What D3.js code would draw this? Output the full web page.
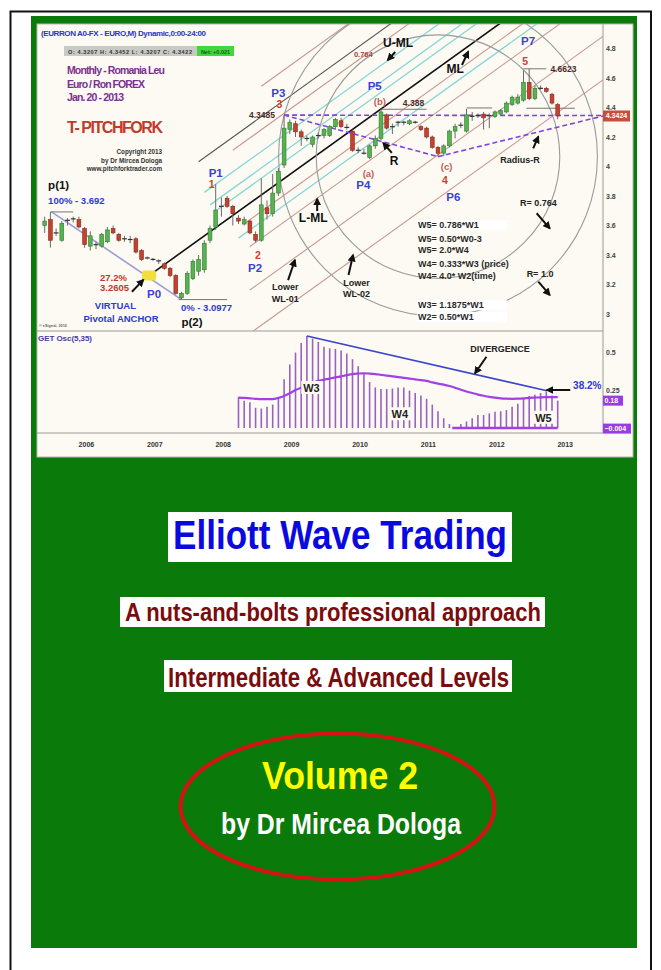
<!DOCTYPE html>
<html>
<head>
<meta charset="utf-8">
<script src="https://cdn.jsdelivr.net/npm/d3@7"></script>
<style>
  body { margin: 0; background: #fff; }
  svg { display: block; }
  text { font-family: "Liberation Sans Narrow", "Liberation Sans", Arial, sans-serif; font-weight: bold; }
</style>
</head>
<body>
<svg id="cover" width="661" height="970"></svg>
<script>
// ---------- data (monthly EUR/RON, first candle Jul 2005, last Jan 2013) ----------
const openP = [3.60,3.64,3.55,3.50,3.63,3.64,3.64,3.58,3.46,3.47,
  3.46,3.49,3.58,3.54,3.51,3.51,3.51,3.43,3.38,3.37,
  3.36,3.34,3.31,3.26,3.11,3.14,3.24,3.29,3.30,3.50,
  3.59,3.72,3.785,3.73,3.65,3.61,3.63,3.54,3.50,3.72,
  3.68,3.82,4.01,4.25,4.29,4.235,4.19,4.15,4.21,4.21,
  4.21,4.27,4.31,4.27,4.24,4.11,4.10,4.06,4.14,4.19,
  4.35,4.27,4.29,4.30,4.29,4.30,4.27,4.26,4.20,4.13,
  4.09,4.14,4.24,4.28,4.24,4.35,4.345,4.355,4.345,4.34,
  4.355,4.37,4.42,4.43,4.45,4.57,4.46,4.53,4.53,4.49,4.42];
const highP = [3.66,3.692,3.58,3.63,3.65,3.66,3.66,3.59,3.56,3.49,
  3.55,3.59,3.60,3.55,3.53,3.53,3.52,3.44,3.39,3.38,
  3.37,3.35,3.32,3.27,3.15,3.29,3.37,3.40,3.50,3.60,
  3.88,3.79,3.80,3.74,3.67,3.66,3.64,3.56,3.92,3.77,
  3.95,3.99,4.3485,4.32,4.31,4.25,4.21,4.21,4.23,4.26,
  4.28,4.33,4.33,4.29,4.25,4.13,4.12,4.15,4.21,4.388,
  4.36,4.29,4.31,4.31,4.32,4.31,4.28,4.27,4.21,4.14,
  4.15,4.25,4.29,4.30,4.39,4.37,4.36,4.37,4.36,4.38,
  4.39,4.44,4.48,4.49,4.65,4.6623,4.55,4.55,4.54,4.50,4.43];
const lowP = [3.55,3.45,3.53,3.49,3.60,3.62,3.58,3.45,3.43,3.44,
  3.45,3.48,3.54,3.49,3.49,3.48,3.41,3.36,3.37,3.36,
  3.34,3.30,3.25,3.13,3.0977,3.13,3.23,3.26,3.28,3.48,
  3.57,3.66,3.72,3.60,3.61,3.60,3.54,3.485,3.49,3.64,
  3.66,3.80,3.99,4.22,4.20,4.14,4.17,4.13,4.19,4.19,
  4.20,4.25,4.26,4.25,4.10,4.09,4.08,4.05,4.12,4.18,
  4.25,4.22,4.27,4.28,4.28,4.29,4.24,4.19,4.12,4.067,
  4.07,4.13,4.19,4.26,4.23,4.31,4.33,4.25,4.26,4.33,
  4.35,4.36,4.41,4.42,4.44,4.45,4.45,4.52,4.50,4.42,4.32];
const closeP = [3.63,3.50,3.55,3.615,3.635,3.645,3.59,3.47,3.53,3.47,
  3.54,3.57,3.55,3.50,3.51,3.505,3.42,3.37,3.38,3.37,
  3.36,3.31,3.26,3.14,3.14,3.275,3.355,3.37,3.48,3.58,
  3.705,3.73,3.73,3.68,3.63,3.64,3.55,3.50,3.74,3.68,
  3.82,3.965,4.26,4.30,4.235,4.20,4.19,4.20,4.21,4.25,
  4.27,4.32,4.27,4.265,4.11,4.11,4.09,4.14,4.19,4.37,
  4.26,4.27,4.30,4.30,4.31,4.30,4.25,4.20,4.13,4.09,
  4.14,4.24,4.27,4.28,4.35,4.34,4.345,4.33,4.345,4.37,
  4.38,4.43,4.47,4.47,4.57,4.46,4.53,4.53,4.51,4.43,4.3424];

// GET oscillator, first value at month 34 (May 2008)
const oscFirstMonth = 34;
const oscBars = [.203,.18,.17,.133,.128,.139,.154,.203,.32,.417,
  .496,.56,.605,.588,.566,.534,.524,.52,.51,.49,
  .453,.406,.353,.303,.267,.256,.256,.26,.267,.267,
  .246,.23,.214,.192,.154,.111,.064,.026,.005,.026,
  .043,.064,.085,.085,.096,.107,.11,.118,.139,.16,
  .192,.21,.218,.23,.24,.214,.18];
const oscSignal = [.20,.198,.195,.192,.19,.19,.19,.198,.21,.228,
  .25,.265,.28,.295,.31,.318,.325,.333,.34,.348,
  .355,.358,.36,.358,.355,.35,.345,.34,.335,.33,
  .325,.32,.315,.31,.30,.292,.285,.276,.265,.252,
  .24,.23,.22,.212,.205,.20,.195,.193,.192,.193,
  .195,.198,.20,.202,.203,.203,.203];
const oscBaseFrom = 71.5;
const divMonth = [46, 88.1];
const divValue = [0.605, 0.245];

const priceTicks = [3, 3.2, 3.4, 3.6, 3.8, 4, 4.2, 4.4, 4.6, 4.8];
const oscTicks = [0.25, 0.5];
const yearTicks = [2006, 2007, 2008, 2009, 2010, 2011, 2012, 2013];
const lastPrice = 4.3424;
const oscMarks = [0.18, -0.004];

// pivots (month index, price)
const pivotName = ['P0', 'P1', 'P2', 'P3', 'P6'];
const pivotMonth = [18.3, 30, 37, 42, 69];
const pivotPrice = [3.2605, 3.88, 3.485, 4.3485, 4.067];
const swingMonth = [1.2, 24];
const swingPrice = [3.692, 3.0977];

// pitchfork parallels, in half-widths of the fork
const forkLevel = [2.5, 1.8, 1.5, 1, 0.618, 0.382, 0, -0.382, -0.618, -1, -2, -3];
const forkKind  = ['warn','outer','warn','fib','fib','fib','median','warn','fib','warn','warn','warn'];
const forkFrom  = [38, 27, 33, 28, 29, 30, 18.3, 35, 34, 36, 36, 36];
const radiusRatio = [0.764, 1.0];

// short horizontal price marks
const levelFrom  = [1, 23.5, 59, 84, 84.5, 74];
const levelTo    = [5, 32, 67, 88, 93, 78.5];
const levelPrice = [3.692, 3.0977, 4.388, 4.6623, 4.395, 4.397];

// price pane notes
const noteText = ['p(1)','100% - 3.692','27.2%','3.2605','P0','VIRTUAL','Pivotal ANCHOR','0% - 3.0977','p(2)',
  'P1','1','2','P2','P3','3','4.3485','(a)','P4','P5','(b)','4.388','(c)','4','P6','P7','5','4.6623',
  'U-ML','ML','0.764','R','Radius-R','L-ML','Lower','WL-01','Lower','WL-02','R= 0.764','R= 1.0'];
const noteMonth = [0.6,0.6,9.7,9.7,19.2,8.8,6.8,23.9,24,
  30,29.3,37.4,36.9,41,41.2,40.4,56.8,55.9,57.9,58.8,64.7,70.5,70.2,71.7,84.8,84.3,91,
  62,72,55.9,61.3,83.4,47.1,42.2,42.2,54.7,54.7,86.6,86.9];
const notePrice = [3.845,3.744,3.226,3.158,3.106,3.032,2.948,3.022,2.92,
  3.927,3.852,3.373,3.287,4.473,4.395,4.331,3.931,3.845,4.519,4.417,4.412,3.976,3.881,3.768,4.824,4.688,4.643,
  4.812,4.632,4.744,4.01,4.022,3.626,3.163,3.083,3.19,3.113,3.732,3.249];
const noteKind = ['name','blue','red','red','pivot','blue','blue','blue','name',
  'pivot','wave','wave','pivot','pivot','wave','price','sub','pivot','pivot','sub','price','sub','wave','pivot','pivot','wave','price',
  'line','line','small','line','note','line','note','note','note','note','note','note'];

const formulaText = ['W5= 0.786*W1','W5= 0.50*W0-3','W5= 2.0*W4','W4= 0.333*W3 (price)','W4= 4.0* W2(time)','W3= 1.1875*W1','W2= 0.50*W1'];
const formulaMonth = 65.5;
const formulaPrice = [3.581, 3.49, 3.411, 3.321, 3.237, 3.039, 2.959];

const arrowFrom = [[15.3,3.151],[61.5,4.776],[73.2,4.688],[60.9,4.092],[85.7,4.123],[47.8,3.698],[42.7,3.23],[53.3,3.264],[86.3,3.683],[86.6,3.219]];
const arrowTo   = [[17.3,3.231],[60.2,4.722],[74.3,4.778],[59.4,4.159],[86.6,4.202],[47.8,3.78],[43.9,3.366],[54.1,3.4],[88.6,3.581],[88.6,3.129]];

// oscillator notes
const oscNoteText = ['W3', 'W4', 'W5', 'DIVERGENCE', '38.2%'];
const oscNoteMonth = [46.8, 62.3, 87.5, 79.9, 92.7];
const oscNoteValue = [0.237, 0.064, 0.041, 0.502, 0.255];
const oscArrowFrom = [[77.5, 0.469], [92.2, 0.25]];
const oscArrowTo   = [[75.5, 0.36], [88.1, 0.25]];

// ---------- layout ----------
const svg = d3.select('#cover');
const defs = svg.append('defs');

const x = d3.scaleLinear().domain([0, 90]).range([44.7, 557.7]);
const yP = d3.scaleLinear().domain([3, 4.8]).range([314, 48.5]);
const yO = d3.scaleLinear().domain([0, 0.5]).range([428, 352]);

const pane = {left: 37, right: 603, top: 24, mid: 331, osc: 433, bottom: 457, edge: 633};

defs.append('clipPath').attr('id', 'clipP').append('rect')
  .attr('x', pane.left).attr('y', pane.top).attr('width', pane.right - pane.left).attr('height', pane.mid - pane.top);
defs.append('clipPath').attr('id', 'clipO').append('rect')
  .attr('x', pane.left).attr('y', pane.mid).attr('width', pane.right - pane.left).attr('height', pane.osc - pane.mid);
defs.append('marker').attr('id', 'arr').attr('viewBox', '0 0 10 10')
  .attr('refX', 8).attr('refY', 5).attr('markerWidth', 4).attr('markerHeight', 4).attr('orient', 'auto')
  .append('path').attr('d', 'M0,0 L10,5 L0,10 z').attr('fill', '#111');

// page + green cover
svg.append('rect').attr('width', 661).attr('height', 970).attr('fill', '#fff');
svg.append('path').attr('d', 'M10.5,970 V11.5 H651 V970').attr('fill', 'none').attr('stroke', '#111').attr('stroke-width', 2);
svg.append('rect').attr('x', 31).attr('y', 16).attr('width', 606).attr('height', 932).attr('fill', '#0a7a0a');

// chart panel
svg.append('rect').attr('x', pane.left).attr('y', pane.top)
  .attr('width', pane.edge - pane.left).attr('height', pane.bottom - pane.top)
  .attr('fill', '#fcfaf2').attr('stroke', '#b9b9b0');
svg.append('line').attr('x1', pane.left).attr('x2', pane.right).attr('y1', pane.mid).attr('y2', pane.mid).attr('stroke', '#9a9a9a');
svg.append('line').attr('x1', pane.left).attr('x2', pane.right).attr('y1', pane.osc).attr('y2', pane.osc).attr('stroke', '#9a9a9a');
svg.append('line').attr('x1', pane.right).attr('x2', pane.right).attr('y1', pane.top).attr('y2', pane.osc).attr('stroke', '#9a9a9a');

function addText(g, s, px, py, size, fill, anchor, weight) {
  return g.append('text').attr('x', px).attr('y', py).text(s)
    .attr('font-size', size).attr('fill', fill)
    .attr('text-anchor', anchor || 'start')
    .attr('font-weight', weight || 'bold');
}

// ---------- price pane ----------
const gP = svg.append('g').attr('clip-path', 'url(#clipP)');

// pitchfork: median line from P0 through the P1-P2 midpoint
const midMonth = (pivotMonth[1] + pivotMonth[2]) / 2;
const midPrice = (pivotPrice[1] + pivotPrice[2]) / 2;
const slope = (midPrice - pivotPrice[0]) / (midMonth - pivotMonth[0]);
const mlAt = m => pivotPrice[0] + slope * (m - pivotMonth[0]);
const halfWidth = pivotPrice[1] - mlAt(pivotMonth[1]);

const forkStyle = {
  median: {stroke: '#111', width: 1.6},
  fib: {stroke: '#86d6d8', width: 1.3},
  warn: {stroke: '#c99890', width: 1.1},
  outer: {stroke: '#555', width: 1.1}
};
const priceLine = d3.line().x(d => x(d[0])).y(d => yP(d[1]));

forkLevel.forEach((k, i) => {
  const st = forkStyle[forkKind[i]];
  const pts = [forkFrom[i], 100].map(m => [m, mlAt(m) + k * halfWidth]);
  gP.append('path').attr('d', priceLine(pts)).attr('fill', 'none')
    .attr('stroke', st.stroke).attr('stroke-width', st.width);
});

// radius circles centred on P6, radius = P6 -> P3 distance
const cx = x(pivotMonth[4]), cy = yP(pivotPrice[4]);
const R = Math.hypot(x(pivotMonth[3]) - cx, yP(pivotPrice[3]) - cy);
radiusRatio.forEach(r => {
  gP.append('circle').attr('cx', cx).attr('cy', cy).attr('r', R * r)
    .attr('fill', 'none').attr('stroke', '#9b9b9b').attr('stroke-width', 1.1);
});

// swing p(1) -> p(2)
gP.append('path').attr('d', priceLine(swingMonth.map((m, i) => [m, swingPrice[i]])))
  .attr('fill', 'none').attr('stroke', '#9c9cd8').attr('stroke-width', 1.6);

// short level marks
levelPrice.forEach((p, i) => {
  gP.append('line').attr('x1', x(levelFrom[i])).attr('x2', x(levelTo[i]))
    .attr('y1', yP(p)).attr('y2', yP(p)).attr('stroke', '#777').attr('stroke-width', 1);
});

// dashed violet radius lines
const edgeMonth = x.invert(pane.right);
const dashed = [
  [[pivotMonth[3], pivotPrice[3]], [edgeMonth, lastPrice + 0.003]],
  [[pivotMonth[3], pivotPrice[3]], [pivotMonth[4], pivotPrice[4]]],
  [[pivotMonth[4], pivotPrice[4]], [edgeMonth, lastPrice]]
];
dashed.forEach(seg => {
  gP.append('path').attr('d', priceLine(seg)).attr('fill', 'none')
    .attr('stroke', '#8142de').attr('stroke-width', 1.6).attr('stroke-dasharray', '5,3');
});

// virtual anchor P0
gP.append('rect').attr('x', x(pivotMonth[0]) - 7).attr('y', yP(pivotPrice[0]) - 5)
  .attr('width', 14).attr('height', 10).attr('rx', 2).attr('fill', '#f3df3a');

// candles
const candles = d3.range(openP.length).map(i => ({i, o: openP[i], h: highP[i], l: lowP[i], c: closeP[i]}));
const gC = gP.append('g');
gC.selectAll('line.wick').data(candles).join('line').attr('class', 'wick')
  .attr('x1', d => x(d.i)).attr('x2', d => x(d.i))
  .attr('y1', d => yP(d.h)).attr('y2', d => yP(d.l))
  .attr('stroke', '#6a6a6a').attr('stroke-width', 1);
const bodies = candles.filter(d => Math.abs(yP(d.o) - yP(d.c)) >= 1.5);
const dojis = candles.filter(d => Math.abs(yP(d.o) - yP(d.c)) < 1.5);
gC.selectAll('rect.body').data(bodies).join('rect').attr('class', 'body')
  .attr('x', d => x(d.i) - 1.9).attr('width', 3.8)
  .attr('y', d => yP(Math.max(d.o, d.c)))
  .attr('height', d => Math.abs(yP(d.o) - yP(d.c)))
  .attr('fill', d => d.c >= d.o ? '#58b152' : '#c2412f')
  .attr('stroke', d => d.c >= d.o ? '#2f7d2b' : '#85291d').attr('stroke-width', 0.6);
gC.selectAll('line.doji').data(dojis).join('line').attr('class', 'doji')
  .attr('x1', d => x(d.i) - 2.4).attr('x2', d => x(d.i) + 2.4)
  .attr('y1', d => yP(d.c)).attr('y2', d => yP(d.c))
  .attr('stroke', '#333').attr('stroke-width', 1.2);

// price axis
const axP = svg.append('g').attr('transform', `translate(${pane.right},0)`)
  .call(d3.axisRight(yP).tickValues(priceTicks).tickFormat(d3.format('~g')).tickSize(0).tickPadding(3));
axP.select('.domain').remove();
axP.selectAll('text').attr('font-size', 7).attr('fill', '#444').attr('font-family', 'Liberation Sans, Arial, sans-serif');

// last price box
svg.append('rect').attr('x', pane.right).attr('y', yP(lastPrice) - 5.5).attr('width', 27).attr('height', 11).attr('fill', '#c4503b');
addText(svg, d3.format('.4f')(lastPrice), pane.right + 13.5, yP(lastPrice) + 2.5, 7, '#fff', 'middle');

// header texts
addText(svg, '(EURRON A0-FX - EURO,M) Dynamic,0:00-24:00', 41, 36, 8, '#2a35c8').attr('textLength', 165);
svg.append('rect').attr('x', 64).attr('y', 46).attr('width', 133).attr('height', 10).attr('fill', '#c9c9c6');
addText(svg, 'O: 4.3207     H: 4.3452     L: 4.3207     C: 4.3422', 68, 53.5, 5.5, '#333', 'start', 'normal').attr('textLength', 124);
svg.append('rect').attr('x', 197).attr('y', 46).attr('width', 37).attr('height', 10).attr('fill', '#3fd83f');
addText(svg, 'Net: +0.021', 215.5, 53.5, 5.5, '#225522', 'middle', 'normal');

addText(svg, 'Monthly - Romania Leu', 67, 74, 10.5, '#7b2f8f').attr('textLength', 98);
addText(svg, 'Euro / Ron FOREX', 67, 88, 10.5, '#7b2f8f').attr('textLength', 78);
addText(svg, 'Jan. 20 - 2013', 67, 101, 10.5, '#7b2f8f').attr('textLength', 57);
addText(svg, 'T- PITCHFORK', 67, 133, 16, '#c43a2a').attr('textLength', 96);
addText(svg, 'Copyright 2013', 162, 154, 6.3, '#333', 'end');
addText(svg, 'by Dr Mircea Dologa', 162, 162.5, 6.3, '#333', 'end');
addText(svg, 'www.pitchforktrader.com', 162, 171, 6.3, '#333', 'end');
addText(svg, '\u00a9 eSignal, 2010', 39, 327, 3.8, '#666', 'start', 'normal');

// notes
const noteStyle = {
  name:  {size: 11.5, fill: '#111', anchor: 'start'},
  blue:  {size: 9.5, fill: '#2d3bd2', anchor: 'start'},
  red:   {size: 9.5, fill: '#c0392b', anchor: 'start'},
  pivot: {size: 11.5, fill: '#3b3fd6', anchor: 'middle'},
  wave:  {size: 10.5, fill: '#d0402e', anchor: 'middle'},
  price: {size: 8.5, fill: '#4a2a2a', anchor: 'middle'},
  sub:   {size: 9.5, fill: '#c0605a', anchor: 'middle', weight: 'normal'},
  small: {size: 7.5, fill: '#9b4a3a', anchor: 'middle'},
  line:  {size: 12, fill: '#111', anchor: 'middle'},
  note:  {size: 9, fill: '#222', anchor: 'middle'}
};
const gN = svg.append('g');
noteText.forEach((t, i) => {
  const st = noteStyle[noteKind[i]];
  const anchor = t === '4.3485' ? 'end' : st.anchor;
  addText(gN, t, x(noteMonth[i]), yP(notePrice[i]), st.size, st.fill, anchor, st.weight);
});

// formulas with white backing
const gF = svg.append('g');
formulaText.forEach((t, i) => {
  const tx = addText(gF, t, x(formulaMonth), yP(formulaPrice[i]), 9, '#2a2a2a');
  const b = tx.node().getBBox();
  if (i === 0 || i >= 5) {
    gF.insert('rect', 'text').attr('x', b.x - 1).attr('y', b.y).attr('width', 90).attr('height', b.height).attr('fill', '#fff');
  }
});

// arrows
const gA = svg.append('g');
arrowFrom.forEach((a, i) => {
  gA.append('line').attr('x1', x(a[0])).attr('y1', yP(a[1]))
    .attr('x2', x(arrowTo[i][0])).attr('y2', yP(arrowTo[i][1]))
    .attr('stroke', '#111').attr('stroke-width', 2).attr('marker-end', 'url(#arr)');
});

// ---------- oscillator pane ----------
const gO = svg.append('g').attr('clip-path', 'url(#clipO)');
const oscData = oscBars.map((v, i) => ({m: oscFirstMonth + i, v, s: oscSignal[i]}));
gO.selectAll('line.bar').data(oscData).join('line').attr('class', 'bar')
  .attr('x1', d => x(d.m)).attr('x2', d => x(d.m))
  .attr('y1', yO(0)).attr('y2', d => yO(d.v))
  .attr('stroke', '#9a62bf').attr('stroke-width', 1.6);
gO.append('line').attr('x1', x(oscBaseFrom)).attr('x2', x(90)).attr('y1', yO(0)).attr('y2', yO(0))
  .attr('stroke', '#a23fe6').attr('stroke-width', 2.4);
gO.append('path').datum(oscData)
  .attr('d', d3.line().curve(d3.curveMonotoneX).x(d => x(d.m)).y(d => yO(d.s)))
  .attr('fill', 'none').attr('stroke', '#a23fe6').attr('stroke-width', 2.2);
gO.append('path').datum(divMonth.map((m, i) => [m, divValue[i]]))
  .attr('d', d3.line().x(d => x(d[0])).y(d => yO(d[1])))
  .attr('fill', 'none').attr('stroke', '#3a44cc').attr('stroke-width', 1.6);

addText(svg, 'GET Osc(5,35)', 38, 341, 8, '#4a38a8').attr('textLength', 54);

const oscNoteStyle = [
  {size: 11, fill: '#222', bg: true}, {size: 11, fill: '#222', bg: true}, {size: 11, fill: '#222', bg: true},
  {size: 9, fill: '#222', bg: false}, {size: 10, fill: '#2d3bd2', bg: false}
];
oscNoteText.forEach((t, i) => {
  const st = oscNoteStyle[i];
  const tx = addText(svg, t, x(oscNoteMonth[i]), yO(oscNoteValue[i]), st.size, st.fill, t === '38.2%' ? 'start' : 'middle');
  if (st.bg) {
    const b = tx.node().getBBox();
    svg.insert('rect', () => tx.node()).attr('x', b.x - 2).attr('y', b.y - 1)
      .attr('width', b.width + 4).attr('height', b.height + 1).attr('fill', '#fcfaf2');
  }
});
oscArrowFrom.forEach((a, i) => {
  svg.append('line').attr('x1', x(a[0])).attr('y1', yO(a[1]))
    .attr('x2', x(oscArrowTo[i][0])).attr('y2', yO(oscArrowTo[i][1]))
    .attr('stroke', '#111').attr('stroke-width', 2).attr('marker-end', 'url(#arr)');
});

// oscillator axis
const axO = svg.append('g').attr('transform', `translate(${pane.right},0)`)
  .call(d3.axisRight(yO).tickValues(oscTicks).tickFormat(d3.format('~g')).tickSize(0).tickPadding(3));
axO.select('.domain').remove();
axO.selectAll('text').attr('font-size', 7).attr('fill', '#444').attr('font-family', 'Liberation Sans, Arial, sans-serif');
oscMarks.forEach(v => {
  const lbl = d3.format('~g')(v);
  const w = lbl.length * 4 + 4;
  svg.append('rect').attr('x', pane.right).attr('y', yO(v) - 5).attr('width', w).attr('height', 10).attr('fill', '#9a3be8');
  addText(svg, lbl, pane.right + 1.5, yO(v) + 2.5, 7, '#fff', 'start', 'normal');
});

// time axis
const axT = svg.append('g').attr('transform', `translate(7,${pane.osc + 14})`)
  .call(d3.axisBottom(x).tickValues(yearTicks.map(y => (y - 2005) * 12 - 6))
    .tickFormat(m => String(2005 + (m + 6) / 12)).tickSize(0).tickPadding(0));
axT.select('.domain').remove();
axT.selectAll('text').attr('font-size', 7).attr('fill', '#333').attr('dy', 0).attr('font-family', 'Liberation Sans, Arial, sans-serif');

// ---------- cover titles ----------
function boxedTitle(s, cxp, base, size, len, fill, box) {
  svg.append('rect').attr('x', box[0]).attr('y', box[1]).attr('width', box[2]).attr('height', box[3]).attr('fill', '#fff');
  addText(svg, s, cxp, base, size, fill, 'middle').attr('textLength', len).attr('lengthAdjust', 'spacingAndGlyphs');
}
boxedTitle('Elliott Wave Trading', 340, 549, 41, 334, '#0a0ae0', [168, 512, 344, 50]);
boxedTitle('A nuts-and-bolts professional approach', 333, 621, 26, 416, '#7a0c0c', [120, 597, 425, 30]);
boxedTitle('Intermediate & Advanced Levels', 338.5, 687, 28, 341, '#7a0c0c', [164, 660, 348, 32]);

svg.append('ellipse').attr('cx', 337.5).attr('cy', 806.5).attr('rx', 157).attr('ry', 73)
  .attr('fill', 'none').attr('stroke', '#d41414').attr('stroke-width', 4);
addText(svg, 'Volume 2', 340, 789, 38, '#ffff00', 'middle').attr('textLength', 156).attr('lengthAdjust', 'spacingAndGlyphs');
addText(svg, 'by Dr Mircea Dologa', 341, 834, 30, '#ffffff', 'middle').attr('textLength', 240).attr('lengthAdjust', 'spacingAndGlyphs');
</script>
</body>
</html>
